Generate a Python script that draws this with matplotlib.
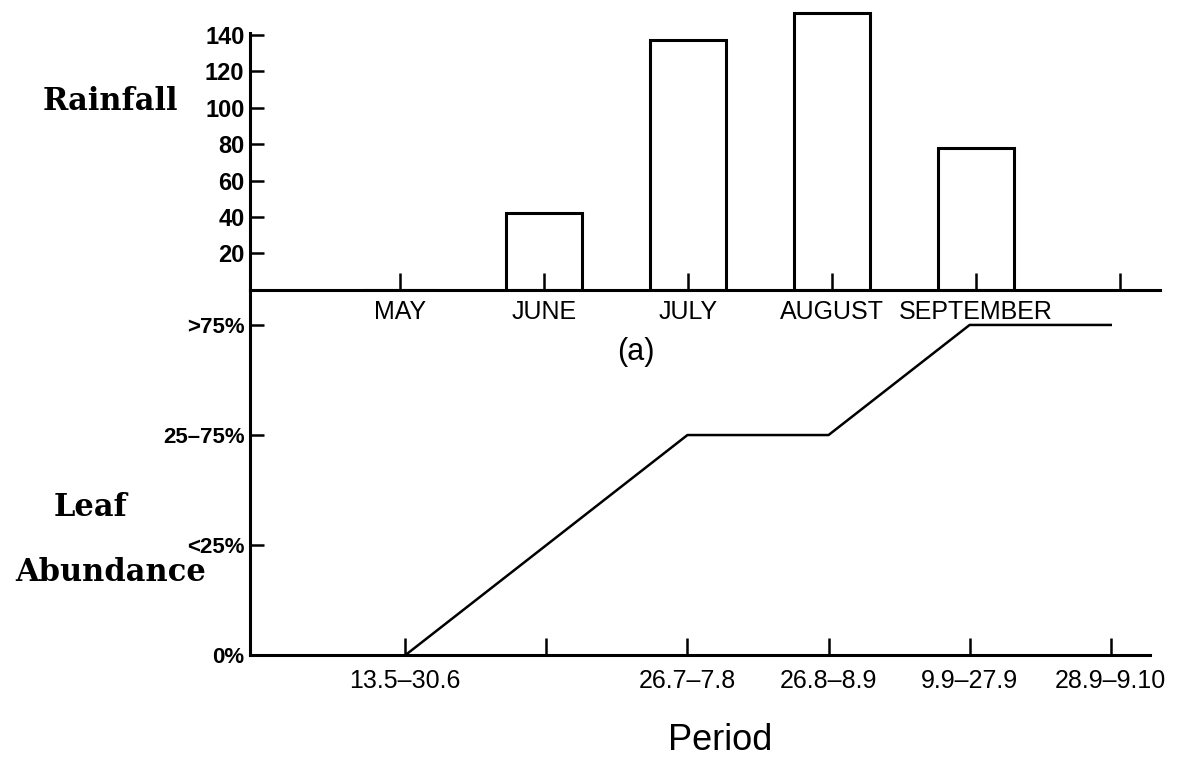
import numpy as np
import matplotlib
matplotlib.use("Agg")
from matplotlib import pyplot as plt

# rainfall per month
months = ['MAY', 'JUNE', 'JULY', 'AUGUST', 'SEPTEMBER', '']
rainfall = [0, 42, 137, 152, 78, 0]
rain_ticks = [20, 40, 60, 80, 100, 120, 140]

# leaf abundance per period (0 = 0%, 1 = <25%, 2 = 25-75%, 3 = >75%)
periods = ['13.5\u201330.6', '', '26.7\u20137.8', '26.8\u20138.9', '9.9\u201327.9', '28.9\u20139.10']
leaf_level = [0, 1, 2, 2, 3, 3]
leaf_labels = ['0%', '<25%', '25\u201375%', '>75%']

sans = 'Liberation Sans'
serif = 'DejaVu Serif'
lw = 2.2

fig = plt.figure(figsize=(11.85, 7.61), dpi=100)

# top panel: rainfall bars
ax1 = fig.add_axes([0.211, 0.619, 0.768, 0.381])
x = np.arange(len(months))
ax1.bar(x[:5], rainfall[:5], width=0.53, facecolor='white', edgecolor='black', linewidth=lw)
ax1.set_xlim(-1.04, 5.28)
ax1.set_ylim(0, 159)
ax1.set_xticks(x)
ax1.set_xticklabels(months, fontsize=18, family=sans, fontstretch='condensed')
ax1.set_yticks(rain_ticks)
ax1.set_yticklabels(rain_ticks, fontsize=17, family=sans, fontweight='bold')
for s in ['top', 'right']:
    ax1.spines[s].set_visible(False)
ax1.spines['left'].set_bounds(0, 141)
ax1.spines['left'].set_linewidth(lw)
ax1.spines['bottom'].set_linewidth(lw)
ax1.spines['bottom'].set_bounds(-1.04, 5.28)
ax1.tick_params(axis='x', direction='in', length=12, width=1.8, pad=7)
ax1.tick_params(axis='y', direction='in', length=10, width=1.8, pad=4)
ax1.patch.set_alpha(0)

# bottom panel: leaf abundance line
ax2 = fig.add_axes([0.211, 0.139, 0.768, 0.48])
xp = np.arange(len(periods))
ax2.plot(xp, leaf_level, color='black', linewidth=1.8)
ax2.set_xlim(-1.1, 5.35)
ax2.set_ylim(0, 3.318)
ax2.set_xticks(xp)
ax2.set_xticklabels(periods, fontsize=18, family=sans)
ax2.set_yticks(range(4))
ax2.set_yticklabels(leaf_labels, fontsize=16, family=sans, fontweight='bold')
for s in ['top', 'right']:
    ax2.spines[s].set_visible(False)
ax2.spines['left'].set_linewidth(lw)
ax2.spines['bottom'].set_linewidth(lw)
ax2.spines['bottom'].set_bounds(-1.1, 5.28)
ax2.tick_params(axis='x', direction='in', length=12, width=1.8, pad=10)
ax2.tick_params(axis='y', direction='in', length=10, width=1.8, pad=4)
ax2.patch.set_alpha(0)

fig.text(0.150, 0.866, 'Rainfall', fontsize=22, family=serif, fontweight='bold',
         ha='right', va='center')
fig.text(0.076, 0.333, 'Leaf', fontsize=22, family=serif, fontweight='bold',
         ha='center', va='center')
fig.text(0.093, 0.248, 'Abundance', fontsize=22, family=serif, fontweight='bold',
         ha='center', va='center')
fig.text(0.537, 0.537, '(a)', fontsize=22, family=sans, ha='center', va='center')
fig.text(0.608, 0.027, 'Period', fontsize=26, family=sans, ha='center', va='center')

fig.savefig('out.png', dpi=100)
